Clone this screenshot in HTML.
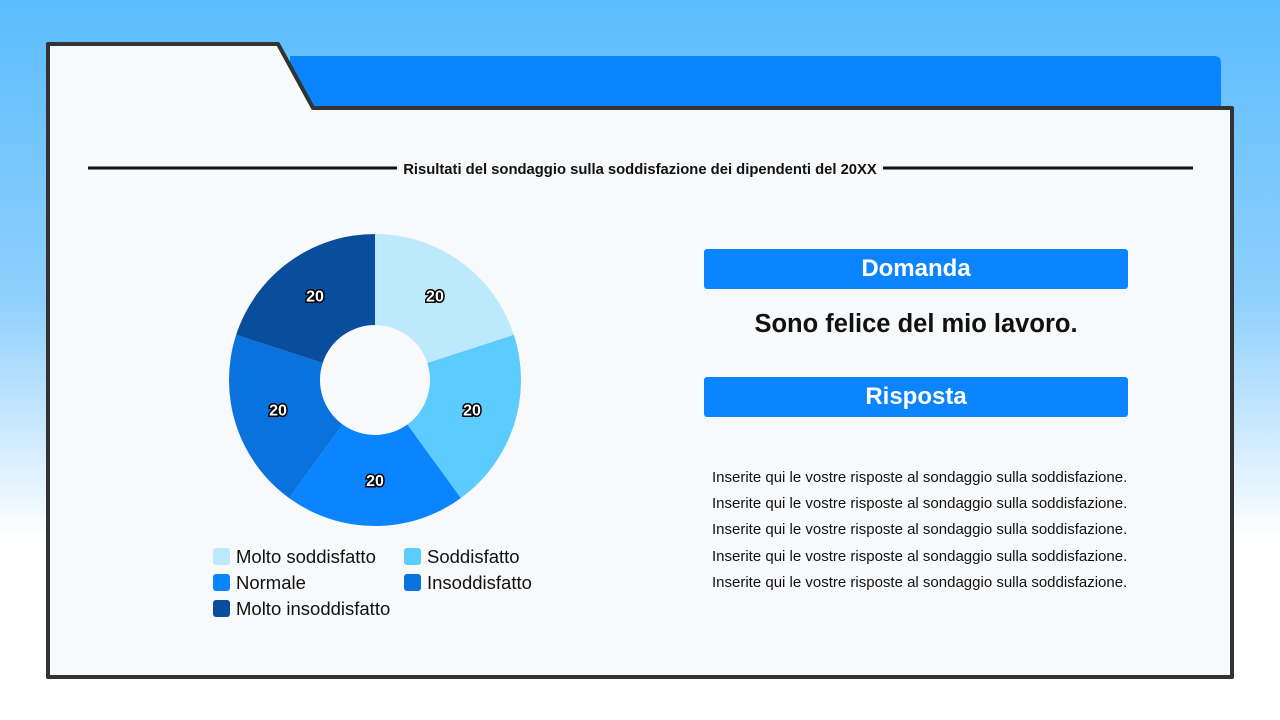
<!DOCTYPE html>
<html><head><meta charset="utf-8"><style>
body{margin:0;width:1280px;height:720px;overflow:hidden;font-family:"Liberation Sans",sans-serif;background:linear-gradient(#5bbcfd 0px,#8fd0fd 300px,#ffffff 540px,#ffffff 720px);position:relative}
.abs{position:absolute}
.bar{background:#0a84ff;color:#fff;font-size:24px;font-weight:bold;text-align:center;border-radius:3px;line-height:40px;height:40px;left:704px;width:424px}
.ans{left:712px;font-size:15px;color:#111;white-space:nowrap}
.leg{font-size:18.5px;color:#111;white-space:nowrap}
.sw{display:inline-block;width:17px;height:17px;border-radius:3px;vertical-align:-2px;margin-right:6px}
</style></head><body>
<svg class="abs" style="left:0;top:0" width="1280" height="720">
<path d="M290 56 H1214 Q1221 56 1221 63 V110 H290 Z" fill="#0a84ff"/>
<path d="M48 44 H278 L313 108 H1232 V677 H48 Z" fill="#f8f9fb" stroke="#333" stroke-width="4" stroke-linejoin="round"/>
<line x1="88" y1="168" x2="397" y2="168" stroke="#111" stroke-width="3"/>
<line x1="883" y1="168" x2="1193" y2="168" stroke="#111" stroke-width="3"/>
<text x="640" y="174" text-anchor="middle" font-size="14.8" font-weight="bold" fill="#111" font-family="Liberation Sans, sans-serif">Risultati del sondaggio sulla soddisfazione dei dipendenti del 20XX</text>
<g id="pie"></g>
</svg>
<div class="abs bar" style="top:249px">Domanda</div>
<div class="abs" style="left:704px;width:424px;top:310px;text-align:center;font-size:25.5px;font-weight:bold;color:#111">Sono felice del mio lavoro.</div>
<div class="abs bar" style="top:377px">Risposta</div>
<div class="abs ans" style="top:469px">Inserite qui le vostre risposte al sondaggio sulla soddisfazione.</div>
<div class="abs ans" style="top:495px">Inserite qui le vostre risposte al sondaggio sulla soddisfazione.</div>
<div class="abs ans" style="top:521px">Inserite qui le vostre risposte al sondaggio sulla soddisfazione.</div>
<div class="abs ans" style="top:548px">Inserite qui le vostre risposte al sondaggio sulla soddisfazione.</div>
<div class="abs ans" style="top:574px">Inserite qui le vostre risposte al sondaggio sulla soddisfazione.</div>
<div id="legend"></div>
<script>
const categories=["Molto soddisfatto","Soddisfatto","Normale","Insoddisfatto","Molto insoddisfatto"];
const values=[20,20,20,20,20];
const colors=["#bde9fc","#5ccbfd","#0a84ff","#0a72dd","#084e9c"];
const ns="http://www.w3.org/2000/svg";
const cx=375,cy=380,R=146,r=55,LR=102;
const g=document.getElementById('pie');
const tot=values.reduce((a,b)=>a+b,0);
let a0=-Math.PI/2;
const pt=(a,rad)=>[cx+rad*Math.cos(a),cy+rad*Math.sin(a)];
values.forEach((v,i)=>{
 const a1=a0+v/tot*2*Math.PI;
 const [x0,y0]=pt(a0,R),[x1,y1]=pt(a1,R),[x2,y2]=pt(a1,r),[x3,y3]=pt(a0,r);
 const lg=(a1-a0)>Math.PI?1:0;
 const p=document.createElementNS(ns,'path');
 p.setAttribute('d',`M${x0} ${y0}A${R} ${R} 0 ${lg} 1 ${x1} ${y1}L${x2} ${y2}A${r} ${r} 0 ${lg} 0 ${x3} ${y3}Z`);
 p.setAttribute('fill',colors[i]);
 
 
 g.appendChild(p);
 const [lx,ly]=pt((a0+a1)/2,LR);
 const t=document.createElementNS(ns,'text');
 t.setAttribute('x',lx);t.setAttribute('y',ly+4);
 t.setAttribute('text-anchor','middle');t.setAttribute('font-size','16');t.setAttribute('font-weight','bold');
 t.setAttribute('fill','#fff');t.setAttribute('stroke','#000');t.setAttribute('stroke-width','3');t.setAttribute('paint-order','stroke');
 t.setAttribute('font-family','Liberation Sans, sans-serif');
 t.textContent=v;
 
 
 g.appendChild(t);
 a0=a1;
});
const L=document.getElementById('legend');
categories.forEach((c,i)=>{
 const d=document.createElement('div');
 d.className='abs leg';
 d.style.left=(i%2?404:213)+'px';
 d.style.top=(546+Math.floor(i/2)*26)+'px';
 d.innerHTML=`<span class="sw" style="background:${colors[i]}"></span>${c}`;
 
 
 L.appendChild(d);
});
</script>
</body></html>
